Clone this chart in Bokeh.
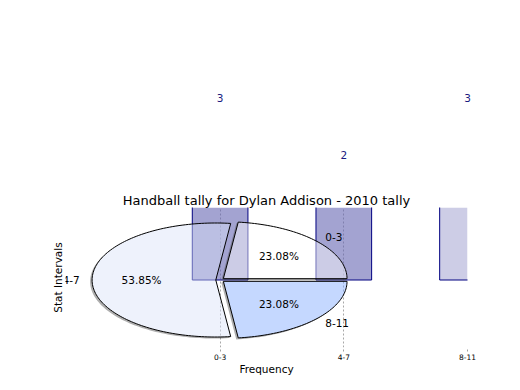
import numpy as np
from bokeh.plotting import figure
from bokeh.models import FixedTicker, Range1d, ColumnDataSource
from bokeh.layouts import column
from bokeh.embed import file_html
from bokeh.resources import INLINE
from bokeh.core.properties import value

# ---- data ----
chart_title = "Handball tally for Dylan Addison - 2010 tally"
intervals = ["0-3", "4-7", "8-11"]
bar_counts = [3, 2, 3]
pie_counts = [3, 7, 3]
x_label = "Frequency"
y_label = "Stat Intervals"

# ---- styles ----
FONT = "DejaVu Sans"
bar_alphas = [0.6, 0.6, 0.33]
pie_colors = ["#ffffff", "#d9e2f8", "#7ea8ff"]
LEFT = 65
FW, FH = 402, 140
X0, X1 = -1.25, 2.0
Y0, Y1 = -1.184, 1.272
SX = FW / (X1 - X0)
SY = FH / (Y1 - Y0)
EXPLODE = 0.035
SHADOW_PX = (2.0, 1.5)
BAR_W = 0.45

# top strip (value labels above the clipped bars), same scales as main plot
TOP_Y, TOP_FH = 85, 90
MAIN_TOP = 207
ZERO_PX = MAIN_TOP + Y1 * SY             # pixel row of value 0
T_FW = 440
top = figure(frame_width=T_FW, frame_height=TOP_FH,
             x_range=Range1d(X0, X0 + T_FW / SX),
             y_range=Range1d((ZERO_PX - (TOP_Y + TOP_FH)) / SY, (ZERO_PX - TOP_Y) / SY),
             x_axis_type=None, y_axis_type=None,
             output_backend="svg", toolbar_location=None,
             min_border_left=LEFT, min_border_right=0,
             min_border_top=TOP_Y, min_border_bottom=0)
top.outline_line_color = None
top.xgrid.visible = False
top.ygrid.visible = False
xpos = list(range(len(intervals)))
top.text(x=xpos, y=bar_counts, text=[str(v) for v in bar_counts],
         text_align="center", text_baseline="middle", y_offset=-11,
         text_font=value(FONT), text_font_size="10.5px", text_color="#1a1a80")

p = figure(frame_width=FW, frame_height=FH,
           x_range=Range1d(X0, X1), y_range=Range1d(Y0, Y1),
           output_backend="svg", toolbar_location=None,
           min_border_left=LEFT, min_border_right=37,
           min_border_top=MAIN_TOP - (TOP_Y + TOP_FH), min_border_bottom=35,
           title=chart_title)
p.outline_line_color = None
p.background_fill_color = "white"
p.border_fill_color = "white"

p.title.text_font = FONT
p.title.text_font_size = "13px"
p.title.text_font_style = "normal"
p.title.text_color = "black"
p.title.align = "center"
p.title.standoff = 0

ticker = FixedTicker(ticks=xpos)
p.xaxis.ticker = ticker
p.xaxis.major_label_overrides = {i: lab for i, lab in zip(xpos, intervals)}
p.xaxis.axis_line_color = None
p.xaxis.major_tick_line_color = "#a0a0a0"
p.xaxis.major_tick_line_dash = "2 2"
p.xaxis.major_tick_out = 4
p.xaxis.major_tick_in = 0
p.xaxis.minor_tick_line_color = None
p.xaxis.major_label_text_font = FONT
p.xaxis.major_label_text_font_size = "7.5px"
p.xaxis.major_label_text_color = "black"
p.xaxis.major_label_standoff = 2
p.xaxis.axis_label = x_label
p.xaxis.axis_label_text_font = FONT
p.xaxis.axis_label_text_font_size = "10.5px"
p.xaxis.axis_label_text_font_style = "normal"
p.xaxis.axis_label_text_color = "black"
p.xaxis.axis_label_standoff = 0

p.yaxis.ticker = FixedTicker(ticks=[])
p.yaxis.axis_line_color = None
p.yaxis.major_tick_out = 0
p.yaxis.major_tick_in = 0
p.yaxis.minor_tick_line_color = None
p.yaxis.major_label_standoff = 0
p.yaxis.axis_label = y_label
p.yaxis.axis_label_text_font = FONT
p.yaxis.axis_label_text_font_size = "10.5px"
p.yaxis.axis_label_text_font_style = "normal"
p.yaxis.axis_label_text_color = "black"
p.yaxis.axis_label_standoff = 2

p.xgrid.ticker = ticker
p.xgrid.grid_line_color = "#a8a8a8"
p.xgrid.grid_line_dash = "2 2"
p.ygrid.visible = False

# ---- bars: fill, then outline as lines (so the frame clip cuts them cleanly) ----
bar_src = ColumnDataSource(dict(x=xpos, top=bar_counts, alpha=bar_alphas))
p.vbar(x="x", top="top", bottom=0, width=BAR_W, source=bar_src,
       fill_color="#6666b2", fill_alpha="alpha", line_color=None)
ol_xs, ol_ys = [], []
for xv, cnt in zip(xpos, bar_counts):
    ol_xs.append([xv - BAR_W / 2, xv - BAR_W / 2, xv + BAR_W / 2, xv + BAR_W / 2])
    ol_ys.append([cnt, 0, 0, cnt])
p.multi_line(ol_xs, ol_ys, line_color="#000080", line_width=1)

# ---- pie ----
total = float(sum(pie_counts))
fracs = [c / total for c in pie_counts]
starts = np.concatenate([[0.0], np.cumsum(fracs)[:-1]]) * 2 * np.pi
ends = np.cumsum(fracs) * 2 * np.pi

slice_xs, slice_ys = [], []
shadow_xs, shadow_ys = [], []
ox, oy = -SHADOW_PX[0] / SX, -SHADOW_PX[1] / SY
for a0, a1 in zip(starts, ends):
    m = 0.5 * (a0 + a1)
    cx, cy = EXPLODE * np.cos(m), EXPLODE * np.sin(m)
    n = max(int((a1 - a0) / (2 * np.pi) * 240), 8)
    t = np.linspace(a0, a1, n)
    px = np.concatenate([[cx], cx + np.cos(t)])
    py = np.concatenate([[cy], cy + np.sin(t)])
    slice_xs.append(list(px))
    slice_ys.append(list(py))
    N = len(px)
    vis = []
    for i in range(N):
        j = (i + 1) % N
        dx = (px[j] - px[i]) * SX
        dy = (py[j] - py[i]) * SY
        vis.append(-SHADOW_PX[0] * dy + SHADOW_PX[1] * dx > 0)
    start = 0 if all(vis) else vis.index(False)
    order = [(start + k) % N for k in range(N)]
    run, runs = [], []
    for i in order:
        if vis[i]:
            if not run:
                run = [i]
            run.append((i + 1) % N)
        else:
            if run:
                runs.append(run)
                run = []
    if run:
        runs.append(run)
    for r in runs:
        shadow_xs.append([px[k] for k in r] + [px[k] + ox for k in reversed(r)])
        shadow_ys.append([py[k] for k in r] + [py[k] + oy for k in reversed(r)])

p.patches(shadow_xs, shadow_ys, fill_color="#4d4d4d", fill_alpha=0.45, line_color=None)
p.patches(slice_xs, slice_ys, fill_color=pie_colors, fill_alpha=0.45,
          line_color="black", line_width=1)

mids = 0.5 * (starts + ends)
lx_l, ly_l, lt_l, lx_r, ly_r, lt_r = [], [], [], [], [], []
pcx, pcy, pct = [], [], []
for lab, c, m in zip(intervals, pie_counts, mids):
    ex, ey = EXPLODE * np.cos(m), EXPLODE * np.sin(m)
    x = ex + 1.1 * np.cos(m)
    y = ey + 1.1 * np.sin(m)
    if np.cos(m) >= 0:
        lx_l.append(x); ly_l.append(y); lt_l.append(lab)
    else:
        lx_r.append(x); ly_r.append(y); lt_r.append(lab)
    pcx.append(ex + 0.6 * np.cos(m))
    pcy.append(ey + 0.6 * np.sin(m))
    pct.append("%.2f%%" % (100.0 * c / total))

common = dict(text_baseline="middle", text_font=value(FONT),
              text_font_size="10.5px", text_color="black")
p.text(x=lx_l, y=ly_l, text=lt_l, text_align="left", **common)
p.text(x=lx_r, y=ly_r, text=lt_r, text_align="right", **common)
p.text(x=pcx, y=pcy, text=pct, text_align="center", **common)

layout = column(top, p, spacing=0)
open("out.html", "w").write(file_html(layout, INLINE))
